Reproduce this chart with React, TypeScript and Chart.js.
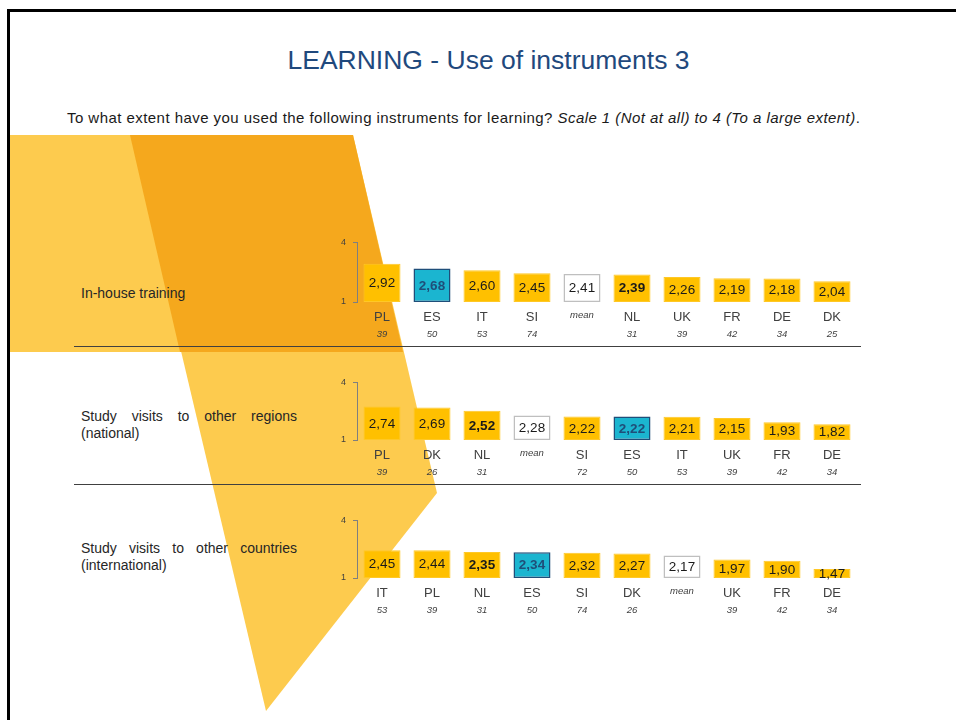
import React, { useEffect, useRef } from 'react';
import { Chart, registerables } from 'chart.js';

Chart.register(...registerables);

const TITLE = 'LEARNING - Use of instruments 3';
const SUBTITLE_MAIN = 'To what extent have you used the following instruments for learning? ';
const SUBTITLE_ITALIC = 'Scale 1 (Not at all) to 4 (To a large extent)';

const rowTitle1 = 'In-house training';
const rowTitle2 = 'Study visits to other regions (national)';
const rowTitle3 = 'Study visits to other countries (international)';

const yTicks = [1, 4];

const cats1 = ['PL', 'ES', 'IT', 'SI', 'mean', 'NL', 'UK', 'FR', 'DE', 'DK'];
const vals1 = [2.92, 2.68, 2.6, 2.45, 2.41, 2.39, 2.26, 2.19, 2.18, 2.04];
const n1 = ['39', '50', '53', '74', '', '31', '39', '42', '34', '25'];

const cats2 = ['PL', 'DK', 'NL', 'mean', 'SI', 'ES', 'IT', 'UK', 'FR', 'DE'];
const vals2 = [2.74, 2.69, 2.52, 2.28, 2.22, 2.22, 2.21, 2.15, 1.93, 1.82];
const n2 = ['39', '26', '31', '', '72', '50', '53', '39', '42', '34'];

const cats3 = ['IT', 'PL', 'NL', 'ES', 'SI', 'DK', 'mean', 'UK', 'FR', 'DE'];
const vals3 = [2.45, 2.44, 2.35, 2.34, 2.32, 2.27, 2.17, 1.97, 1.9, 1.47];
const n3 = ['53', '39', '31', '50', '74', '26', '', '39', '42', '34'];

const FONT = 'Arial, "Liberation Sans", Helvetica, sans-serif';
const YELLOW = '#FFC000';
const TEAL = '#1BB5D0';
const NAVY = '#1F4E79';

function fmt(v: number) {
  return v.toFixed(2).replace('.', ',');
}

function RowChart(props: { cats: string[]; vals: number[]; ns: string[]; top: number; areaH: number }) {
  const { cats, vals, ns, top, areaH } = props;
  const ref = useRef<HTMLCanvasElement | null>(null);
  const padTop = 10;
  const padBottom = 45;
  const W = 560;
  const H = padTop + areaH + padBottom;

  useEffect(() => {
    const canvas = ref.current;
    if (!canvas) return;
    const labelsPlugin = {
      id: 'rowLabels',
      afterDatasetsDraw(chart: any) {
        const { ctx } = chart;
        const yScale = chart.scales.y;
        const base = yScale.getPixelForValue(1);
        const meta = chart.getDatasetMeta(0);
        ctx.save();
        ctx.textAlign = 'center';
        ctx.textBaseline = 'middle';
        meta.data.forEach((bar: any, i: number) => {
          const cat = cats[i];
          const p = bar.getProps(['x', 'y', 'base'], true);
          const cy = (p.y + p.base) / 2;
          const bold = cat === 'ES' || cat === 'NL';
          ctx.font = `${bold ? 'bold ' : ''}13.5px ${FONT}`;
          ctx.fillStyle = cat === 'ES' ? NAVY : '#1a1a1a';
          ctx.fillText(fmt(vals[i]), p.x, cy + 0.5);
          if (cat === 'mean') {
            ctx.font = `italic 9.5px ${FONT}`;
            ctx.fillStyle = '#404040';
            ctx.fillText('mean', p.x, base + 13.5);
          } else {
            ctx.font = `13px ${FONT}`;
            ctx.fillStyle = '#404040';
            ctx.fillText(cat, p.x, base + 15);
          }
          if (ns[i]) {
            ctx.font = `italic 9.5px ${FONT}`;
            ctx.fillStyle = '#404040';
            ctx.fillText(ns[i], p.x, base + 32.5);
          }
        });
        ctx.restore();
      },
    };

    const chart = new Chart(canvas, {
      type: 'bar',
      data: {
        labels: cats,
        datasets: [
          {
            data: vals.map((v) => [1, v]) as any,
            backgroundColor: cats.map((c) => (c === 'mean' ? '#FFFFFF' : c === 'ES' ? TEAL : YELLOW)),
            borderColor: cats.map((c) => (c === 'mean' ? '#BFBFBF' : c === 'ES' ? NAVY : '#FFC826')),
            borderWidth: cats.map((c) => (c === 'mean' || c === 'ES' ? 1.5 : 1)),
            borderSkipped: false,
            barPercentage: 0.74,
            categoryPercentage: 1,
          },
        ],
      },
      options: {
        responsive: false,
        animation: false,
        devicePixelRatio: 1,
        layout: { padding: { left: 10, right: 23, top: padTop, bottom: padBottom } },
        plugins: { legend: { display: false }, tooltip: { enabled: false } },
        scales: {
          x: { type: 'category', display: false, offset: true },
          y: {
            type: 'linear',
            min: 1,
            max: 4,
            afterBuildTicks: (axis: any) => {
              axis.ticks = yTicks.map((v) => ({ value: v }));
            },
            afterFit: (scale: any) => {
              scale.width = 27;
            },
            ticks: {
              font: { family: FONT, size: 9 },
              color: '#404040',
              padding: 7,
            },
            grid: { drawOnChartArea: false, drawTicks: true, tickLength: 4, color: '#7F7F7F' },
            border: { display: true, color: '#7F7F7F', width: 1 },
          },
        },
      },
      plugins: [labelsPlugin],
    } as any);
    return () => chart.destroy();
  }, []);

  return (
    <canvas
      ref={ref}
      width={W}
      height={H}
      style={{ position: 'absolute', left: 320, top: top - padTop, width: W, height: H }}
    />
  );
}

export default function App() {
  const rowText: React.CSSProperties = {
    position: 'absolute',
    left: 81,
    width: 216,
    fontFamily: FONT,
    fontSize: 14,
    lineHeight: '17px',
    color: '#262626',
    textAlign: 'justify',
  };
  return (
    <div
      style={{
        position: 'fixed',
        left: 0,
        top: 0,
        width: 956,
        height: 720,
        overflow: 'hidden',
        background: '#FFFFFF',
        fontFamily: FONT,
      }}
    >
      <div
        style={{
          position: 'absolute',
          left: 7,
          top: 9,
          width: 1000,
          height: 800,
          borderLeft: '3px solid #000',
          borderTop: '3px solid #000',
        }}
      />
      <svg width={956} height={720} style={{ position: 'absolute', left: 0, top: 0 }}>
        <polygon points="10,135 200,135 200,352 10,352" fill="#FDCB4E" />
        <polygon points="130,135 353,135 437,493 266,711" fill="#FDCB4E" />
        <polygon points="130,135 353,135 403,352 180,352" fill="#F5A81D" />
      </svg>
      <div
        style={{
          position: 'absolute',
          left: 0,
          width: 977,
          top: 45,
          textAlign: 'center',
          fontSize: 26.5,
          lineHeight: '30px',
          color: '#1F497D',
          whiteSpace: 'nowrap',
        }}
      >
        {TITLE}
      </div>
      <div
        style={{
          position: 'absolute',
          left: 67,
          top: 108,
          fontSize: 15,
          letterSpacing: '0.45px',
          lineHeight: '19px',
          color: '#1a1a1a',
          whiteSpace: 'nowrap',
        }}
      >
        {SUBTITLE_MAIN}
        <i>{SUBTITLE_ITALIC}</i>.
      </div>
      <div style={{ ...rowText, top: 285, lineHeight: '16px' }}>{rowTitle1}</div>
      <div style={{ ...rowText, top: 408 }}>{rowTitle2}</div>
      <div style={{ ...rowText, top: 540 }}>{rowTitle3}</div>
      <div style={{ position: 'absolute', left: 74, top: 346, width: 787, height: 1, background: '#404040' }} />
      <div style={{ position: 'absolute', left: 74, top: 484, width: 787, height: 1, background: '#404040' }} />
      <RowChart cats={cats1} vals={vals1} ns={n1} top={240} areaH={62} />
      <RowChart cats={cats2} vals={vals2} ns={n2} top={380} areaH={60} />
      <RowChart cats={cats3} vals={vals3} ns={n3} top={518} areaH={60} />
    </div>
  );
}
